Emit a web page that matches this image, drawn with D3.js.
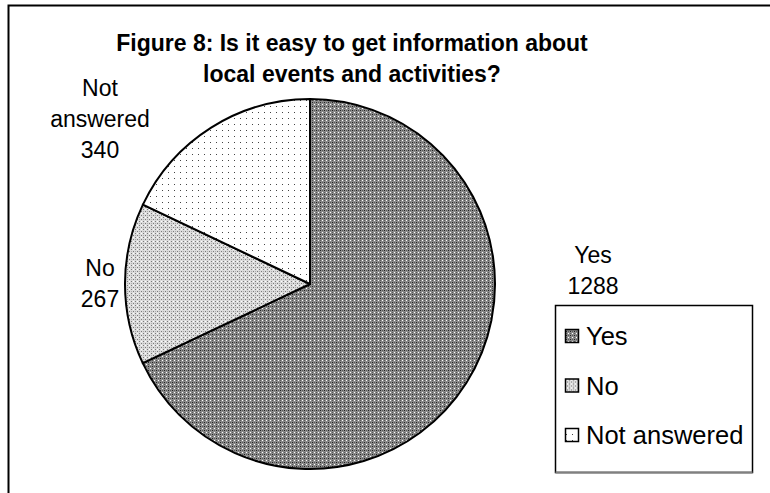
<!DOCTYPE html>
<html>
<head>
<meta charset="utf-8">
<script src="https://cdn.jsdelivr.net/npm/d3@7"></script>
<style>
  html, body { margin: 0; padding: 0; background: #fff; }
  svg { display: block; }
  text { font-family: "Liberation Sans", Arial, sans-serif; fill: #000; }
</style>
</head>
<body>
<svg id="chart" width="770" height="493"></svg>
<script>
// Survey answers: "Is it easy to get information about local events and activities?"
const categories = ["Yes", "No", "Not answered"];
const counts = [1288, 267, 340];
const titleLines = ["Figure 8: Is it easy to get information about", "local events and activities?"];
const labelLines = [["Yes", "1288"], ["No", "267"], ["Not", "answered", "340"]];

const W = 770, H = 493;
const svg = d3.select("#chart");

// ---- fill patterns (pixel hatches) ----
const defs = svg.append("defs");
function pixelPattern(id, size, bg, pixels) {
  const p = defs.append("pattern")
    .attr("id", id).attr("patternUnits", "userSpaceOnUse")
    .attr("width", size).attr("height", size);
  p.append("rect").attr("width", size).attr("height", size).attr("fill", bg)
    .attr("shape-rendering", "crispEdges");
  pixels.forEach(([x, y, c]) => p.append("rect")
    .attr("x", x).attr("y", y).attr("width", 1).attr("height", 1)
    .attr("fill", c).attr("shape-rendering", "crispEdges"));
}
pixelPattern("pat-yes", 4, "#8c8c8c", [[0, 0, "#ffffff"], [2, 2, "#222222"], [0, 2, "#5a5a5a"], [2, 0, "#5a5a5a"]]);
pixelPattern("pat-no", 4, "#dcdcdc", [[1, 1, "#7a7a7a"], [3, 3, "#7a7a7a"], [1, 3, "#b0b0b0"], [3, 1, "#ffffff"]]);
pixelPattern("pat-na", 6, "#ffffff", [[2, 2, "#444444"]]);
const fills = d3.scaleOrdinal().domain(categories).range(["url(#pat-yes)", "url(#pat-no)", "url(#pat-na)"]);

// ---- chart frame (runs past the right and bottom edges) ----
svg.append("rect")
  .attr("x", 8.5).attr("y", 5.5).attr("width", W + 20).attr("height", H + 20)
  .attr("fill", "none").attr("stroke", "#000").attr("stroke-width", 2);

// ---- title ----
svg.append("text")
  .attr("x", 352).attr("y", 51)
  .attr("text-anchor", "middle")
  .style("font-weight", "bold").style("font-size", "23px")
  .selectAll("tspan").data(titleLines).join("tspan")
  .attr("x", 352).attr("dy", (d, i) => i === 0 ? 0 : 31)
  .text(d => d);

// ---- pie ----
const cx = 310, cy = 284, radius = 185;
const data = categories.map((c, i) => ({ category: c, value: counts[i], lines: labelLines[i] }));
const pie = d3.pie().value(d => d.value).sort(null);
const arc = d3.arc().innerRadius(0).outerRadius(radius);
const arcs = pie(data);

const g = svg.append("g").attr("transform", `translate(${cx},${cy})`);
g.selectAll("path.slice").data(arcs).join("path")
  .attr("class", "slice")
  .attr("d", arc)
  .attr("fill", d => fills(d.data.category))
  .attr("stroke", "#000").attr("stroke-width", 2)
  .attr("stroke-linejoin", "round");

// ---- data labels, placed beside their slice ----
const labelAnchor = {
  "Yes": { x: 593, y: 263 },
  "No": { x: 100, y: 276 },
  "Not answered": { x: 100, y: 96 }
};
const lineGap = 31;
svg.selectAll("text.dlabel").data(arcs).join("text")
  .attr("class", "dlabel")
  .attr("text-anchor", "middle")
  .style("font-size", "23px")
  .each(function (d) {
    const a = labelAnchor[d.data.category];
    d3.select(this).selectAll("tspan").data(d.data.lines).join("tspan")
      .attr("x", a.x).attr("y", (t, i) => a.y + i * lineGap)
      .text(t => t);
  });

// ---- legend ----
const lg = svg.append("g");
const lx = 555.5, ly = 305.5, lw = 197, lh = 167;
lg.append("rect").attr("x", lx).attr("y", ly).attr("width", lw).attr("height", lh)
  .attr("fill", "#fff").attr("stroke", "#000").attr("stroke-width", 1.5);
lg.append("line").attr("x1", lx).attr("x2", lx + lw).attr("y1", ly + lh).attr("y2", ly + lh)
  .attr("stroke", "#808080").attr("stroke-width", 2);
// text baselines of the three legend rows
const rowY = d3.scalePoint().domain(categories).range([345, 444]);
const items = lg.selectAll("g.item").data(categories).join("g").attr("class", "item")
  .attr("transform", c => `translate(0,${rowY(c)})`);
items.append("rect")
  .attr("x", 565.5).attr("y", -15.5).attr("width", 13).attr("height", 13)
  .attr("fill", c => fills(c)).attr("stroke", "#000").attr("stroke-width", 1.5);
items.append("text")
  .attr("x", 586).attr("y", 0)
  .style("font-size", "25.5px")
  .text(c => c);
</script>
</body>
</html>
